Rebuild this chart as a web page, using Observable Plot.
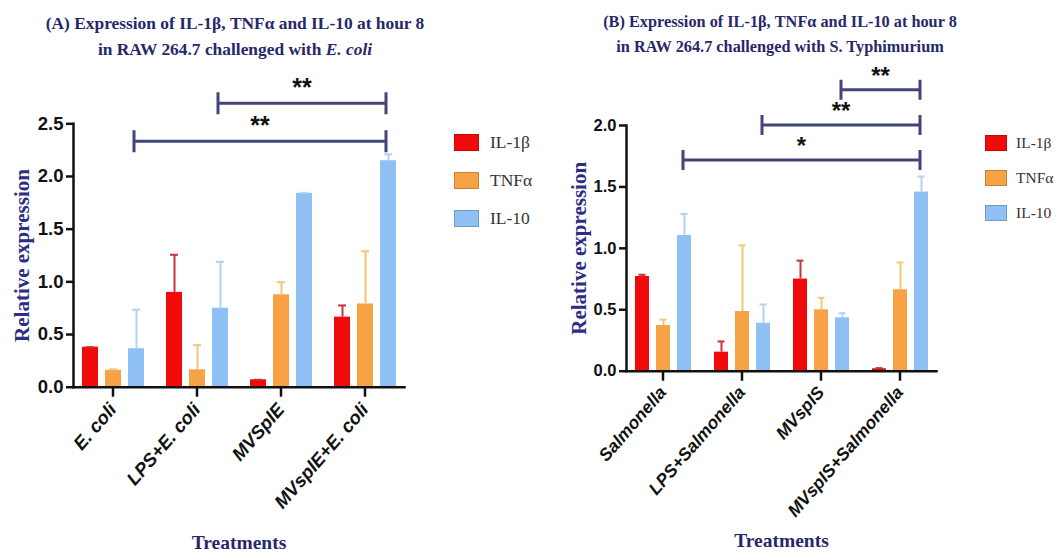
<!DOCTYPE html>
<html>
<head>
<meta charset="utf-8">
<script src="https://cdn.jsdelivr.net/npm/d3@7"></script>
<script src="https://cdn.jsdelivr.net/npm/@observablehq/plot@0.6"></script>
<style>
  body { margin: 0; width: 1057px; height: 556px; background: #fff; position: relative; overflow: hidden; }
  .title { position: absolute; text-align: center; color: #27286a; font-family: "Liberation Serif", serif; font-weight: bold; white-space: nowrap; }
  .panel { position: absolute; }
  .legend { position: absolute; font-family: "Liberation Serif", serif; color: #333; }
  .legend .row { display: flex; align-items: center; }
  .legend .sw { box-sizing: border-box; }
</style>
</head>
<body>
<div class="title" id="titleA" style="left:35px; top:10px; width:400px; font-size:17.4px; line-height:26px;">
  (A) Expression of IL-1β, TNFα and IL-10 at hour 8<br>in RAW 264.7 challenged with <i>E. coli</i>
</div>
<div class="title" id="titleB" style="left:580px; top:9px; width:400px; font-size:16.3px; line-height:25px;">
  (B) Expression of IL-1β, TNFα and IL-10 at hour 8<br>in RAW 264.7 challenged with S. Typhimurium
</div>
<div class="panel" id="panelA" style="left:0px; top:60px;"></div>
<div class="panel" id="panelB" style="left:540px; top:60px;"></div>
<div class="legend" id="legendA" style="left:454px; top:123px;"></div>
<div class="legend" id="legendB" style="left:985px; top:125px;"></div>
<script>
// ---------- data ----------
const cytokines = ["IL-1β", "TNFα", "IL-10"];
const barColors = ["#f00a0a", "#f7a244", "#8fc0f4"];
const errColors = ["#c8323c", "#f2c77a", "#b3d3f2"];

// Panel A: E. coli
const treatmentsA = ["E. coli", "LPS+E. coli", "MVSplE", "MVsplE+E. coli"];
const il1bA = [0.38, 0.90, 0.07, 0.665];
const tnfA = [0.16, 0.165, 0.877, 0.79];
const il10A = [0.365, 0.75, 1.84, 2.15];
const il1bTopA = [0.38, 1.257, 0.07, 0.776];
const tnfTopA = [0.17, 0.40, 0.997, 1.29];
const il10TopA = [0.735, 1.19, 1.845, 2.21];
const bracketsA = [
  {from: "E. coli", to: "MVsplE+E. coli", y: 2.33, label: "**"},
  {from: "LPS+E. coli", to: "MVsplE+E. coli", y: 2.69, label: "**"}
];
const yTicksA = [0, 0.5, 1.0, 1.5, 2.0, 2.5];

// Panel B: S. Typhimurium
const treatmentsB = ["Salmonella", "LPS+Salmonella", "MVspIS", "MVspIS+Salmonella"];
const il1bB = [0.771, 0.155, 0.75, 0.02];
const tnfB = [0.372, 0.486, 0.50, 0.663];
const il10B = [1.105, 0.39, 0.435, 1.458];
const il1bTopB = [0.785, 0.242, 0.90, 0.025];
const tnfTopB = [0.42, 1.024, 0.597, 0.885];
const il10TopB = [1.28, 0.543, 0.472, 1.585];
const bracketsB = [
  {from: "Salmonella", to: "MVspIS+Salmonella", y: 1.716, label: "*"},
  {from: "LPS+Salmonella", to: "MVspIS+Salmonella", y: 2.0, label: "**"},
  {from: "MVspIS", to: "MVspIS+Salmonella", y: 2.286, label: "**"}
];
const yTicksB = [0, 0.5, 1.0, 1.5, 2.0];

// ---------- helpers ----------
function buildRows(treatments, vals, tops) {
  return treatments.flatMap((t, i) => cytokines.map((c, j) => ({
    treat: t, cyto: c, value: vals[j][i], top: tops[j][i]
  })));
}

// significance brackets drawn once over the whole frame, positioned with the plot's fx, x and y scales
function bracketMark(list, cyto, o) {
  return Plot.frame({
    facet: "super",
    stroke: "none",
    render(index, scales, values, dims) {
      const {fx, x, y} = scales;
      const px = (t) => fx(t) - dims.marginLeft + x(cyto) + x.bandwidth() / 2;
      const g = d3.create("svg:g");
      for (const b of list) {
        const x1 = px(b.from), x2 = px(b.to), yy = y(b.y);
        g.append("path")
          .attr("d", `M${x1},${yy - o.tick}V${yy + o.tick}M${x1},${yy}H${x2}M${x2},${yy - o.tick}V${yy + o.tick}`)
          .attr("fill", "none")
          .attr("stroke", "#42447a")
          .attr("stroke-width", 3);
        g.append("text")
          .attr("x", (x1 + x2) / 2)
          .attr("y", yy - o.starGap)
          .attr("text-anchor", "middle")
          .attr("font-family", "Liberation Sans, Arial, sans-serif")
          .attr("font-weight", "bold")
          .attr("font-size", o.starSize)
          .attr("fill", "#111")
          .text(b.label);
      }
      return g.node();
    }
  });
}

function makePanel(cfg) {
  const rows = buildRows(cfg.treatments, cfg.vals, cfg.tops);
  const errMarks = cytokines.flatMap((c, j) => {
    const sub = rows.filter(d => d.cyto === c);
    return [
      Plot.ruleX(sub, {fx: "treat", x: "cyto", y1: "value", y2: "top", stroke: errColors[j], strokeWidth: 2}),
      Plot.tickY(sub, {fx: "treat", x: "cyto", y: "top", stroke: errColors[j], strokeWidth: 2, insetLeft: cfg.capInset, insetRight: cfg.capInset})
    ];
  });
  return Plot.plot({
    width: cfg.width,
    height: cfg.height,
    marginLeft: cfg.marginLeft,
    marginRight: cfg.marginRight,
    marginTop: cfg.marginTop,
    marginBottom: cfg.marginBottom,
    style: {background: "transparent", overflow: "visible"},
    fx: {domain: cfg.treatments, paddingInner: cfg.fxPad, paddingOuter: 0},
    x: {domain: cytokines, paddingInner: cfg.xPadIn, paddingOuter: cfg.xPadOut, axis: null},
    y: {domain: [0, cfg.yMax]},
    color: {domain: cytokines, range: barColors},
    marks: [
      Plot.barY(rows, {fx: "treat", x: "cyto", y: "value", fill: "cyto"}),
      ...errMarks,
      Plot.frame({anchor: "bottom", facet: "super", stroke: "#111", strokeWidth: 2.5}),
      Plot.frame({anchor: "left", facet: "super", stroke: "#111", strokeWidth: 2.5}),
      Plot.axisY({
        ticks: cfg.yTicks, tickFormat: d3.format(".1f"), tickSize: 7, tickPadding: 3,
        stroke: "#111", strokeWidth: 2.5, fill: "#111",
        fontSize: cfg.yFont, fontWeight: "bold", fontFamily: "Liberation Sans, Arial, sans-serif",
        label: null
      }),
      Plot.axisFx({
        anchor: "bottom", tickRotate: -49, tickSize: 10, tickPadding: cfg.xPadText,
        stroke: "#111", strokeWidth: 2.5, fill: "#111",
        fontSize: cfg.xFont, fontWeight: "bold", fontStyle: "italic",
        fontFamily: "Liberation Sans, Arial, sans-serif",
        label: null
      }),
      Plot.text(["Relative expression"], {
        text: d => d, frameAnchor: "left", textAnchor: "middle", rotate: -90, dx: cfg.yLabelDx, facet: "super",
        fontSize: cfg.yLabelFont, fontWeight: "bold", fontFamily: "Liberation Serif, serif", fill: "#2b2d86"
      }),
      Plot.text(["Treatments"], {
        text: d => d, frameAnchor: "bottom", dy: cfg.xLabelDy, facet: "super",
        fontSize: 19.5, fontWeight: "bold", fontFamily: "Liberation Serif, serif", fill: "#27286a"
      }),
      bracketMark(cfg.brackets, "IL-10", cfg.bracket)
    ]
  });
}

function makeLegend(el, o) {
  cytokines.forEach((c, j) => {
    const row = document.createElement("div");
    row.className = "row";
    row.style.height = o.rowH + "px";
    const sw = document.createElement("div");
    sw.className = "sw";
    sw.style.width = o.swW + "px";
    sw.style.height = o.swH + "px";
    sw.style.background = barColors[j];
    sw.style.border = "1px solid " + d3.color(barColors[j]).darker(0.6);
    sw.style.marginRight = o.gap + "px";
    const tx = document.createElement("span");
    tx.textContent = c;
    tx.style.fontSize = o.font + "px";
    row.appendChild(sw);
    row.appendChild(tx);
    el.appendChild(row);
  });
}

// ---------- render ----------
document.getElementById("panelA").appendChild(makePanel({
  treatments: treatmentsA,
  vals: [il1bA, tnfA, il10A],
  tops: [il1bTopA, tnfTopA, il10TopA],
  brackets: bracketsA,
  yMax: 2.5, yTicks: yTicksA,
  width: 440, height: 496,
  marginLeft: 71, marginRight: 35, marginTop: 63.3, marginBottom: 169.3,
  fxPad: 0.06, xPadIn: 0.32, xPadOut: 0.35, capInset: 4,
  yFont: 18.5, xFont: 18.5, xPadText: 9, yLabelDx: -51, yLabelFont: 21, xLabelDy: 162,
  bracket: {tick: 11, starGap: 7, starSize: 25}
}));

document.getElementById("panelB").appendChild(makePanel({
  treatments: treatmentsB,
  vals: [il1bB, tnfB, il10B],
  tops: [il1bTopB, tnfTopB, il10TopB],
  brackets: bracketsB,
  yMax: 2.0, yTicks: yTicksB,
  width: 420, height: 496,
  marginLeft: 85, marginRight: 22, marginTop: 65, marginBottom: 185.3,
  fxPad: 0.07, xPadIn: 0.34, xPadOut: 0.36, capInset: 3.5,
  yFont: 16.5, xFont: 17.5, xPadText: 8, yLabelDx: -47, yLabelFont: 21, xLabelDy: 176,
  bracket: {tick: 10, starGap: 6, starSize: 24}
}));

makeLegend(document.getElementById("legendA"), {rowH: 38, swW: 25, swH: 17, gap: 11, font: 17.5});
makeLegend(document.getElementById("legendB"), {rowH: 35, swW: 22, swH: 16, gap: 9, font: 15.5});
</script>
</body>
</html>
